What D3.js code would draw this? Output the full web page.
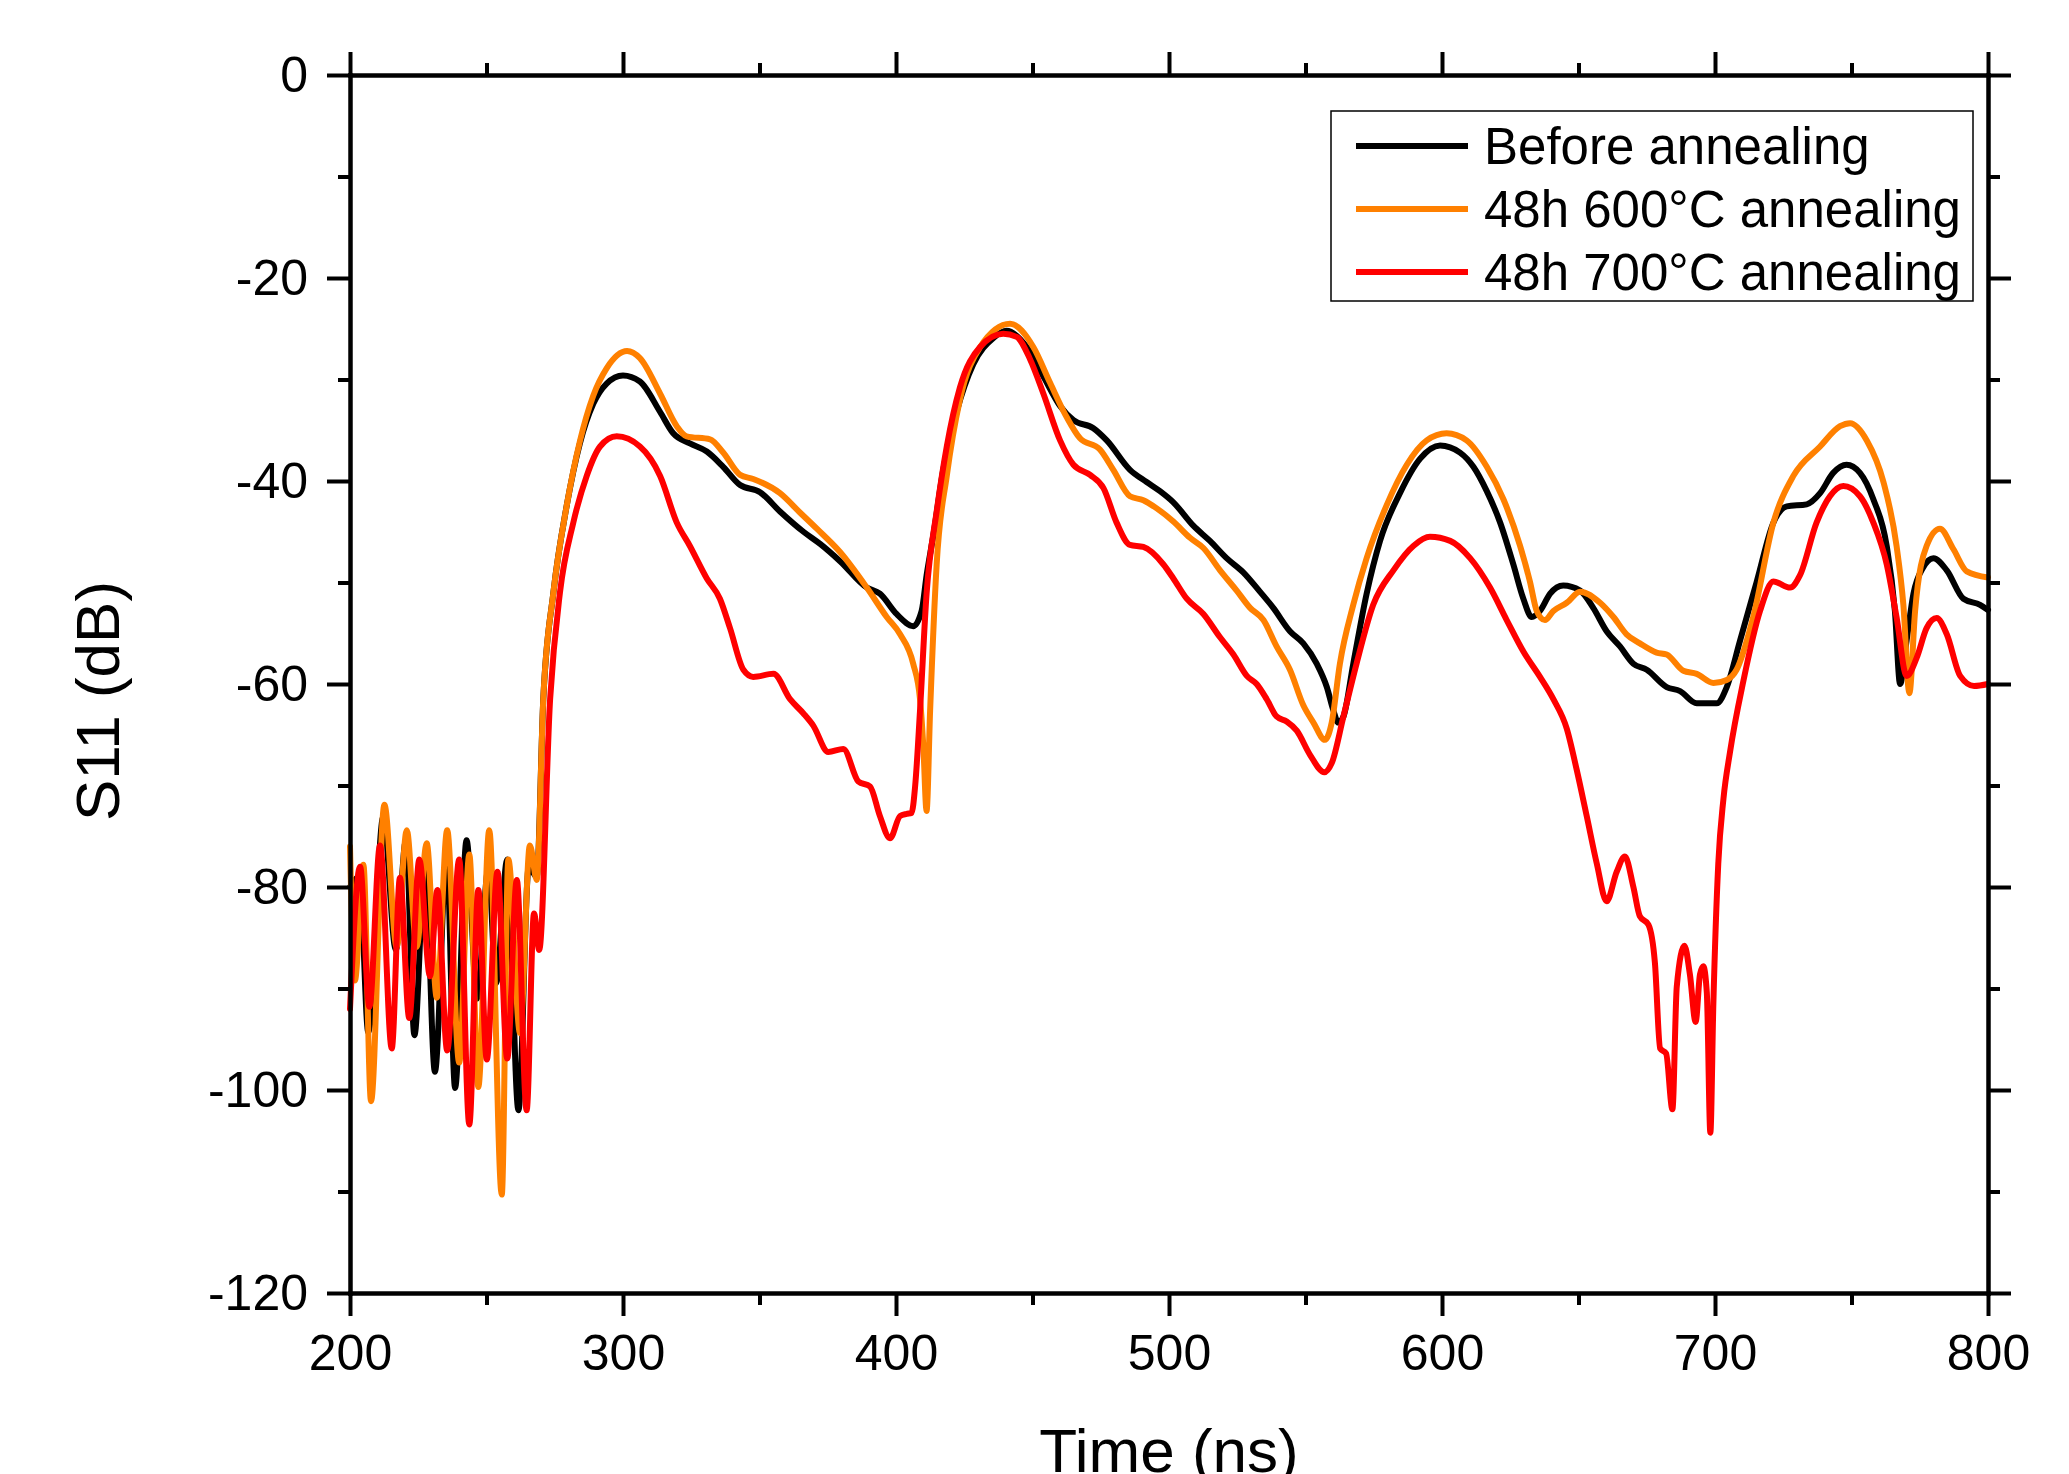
<!DOCTYPE html>
<html>
<head>
<meta charset="utf-8">
<script src="https://cdn.jsdelivr.net/npm/d3@7"></script>
<style>
  body { margin: 0; background: #fff; }
  text { font-family: "Liberation Sans", Arial, sans-serif; fill: #000; }
</style>
</head>
<body>
<div id="chart"></div>
<script>
// series: time (ns) and S11 (dB)
var beforeT = [200,203.5,206.7,212.2,216.8,220.5,223.6,227.5,231.1,235.4,238.5,242.7,246.5,250.7,253.5,257.6,261.7,265.5,268.4,270.8,274.5,279.4,284.2,289.1,294,300,306.2,313.6,318.4,324.5,330.7,336.7,342.9,350.2,357.5,366.1,372.2,379.5,389.3,394.1,400.2,406.3,409.4,411.2,413.7,417.3,422.2,428.3,435.7,440.5,447.9,454,460.1,465,472.3,477.2,485.7,491.8,496.7,501.6,508.9,515,521.1,527.2,533.3,538.2,544.3,549.2,554.1,557.8,560.2,562,563.9,567.5,572.4,577.3,584.6,592,599.3,606.6,611.5,616.4,621.3,626.1,629.8,632.9,635.9,639.6,644.4,650.6,655.4,660.3,665.2,670.1,675,682.3,687.2,693.3,700.6,704.3,709.2,715.3,721.4,726.3,733.6,738.5,743.3,748.2,753.1,758,762.9,765.9,767.8,770.2,772.7,776.3,780,784.9,791,797.1,800];
var beforeV = [-80,-79,-94.3,-73.1,-86.2,-75.4,-94.6,-77.3,-98.2,-77,-99.8,-75.4,-91,-78.2,-89.5,-77.3,-102,-78,-79,-61.5,-51,-42.4,-36.3,-32.4,-30.4,-29.6,-30.2,-33.2,-35.3,-36.3,-37.1,-38.6,-40.4,-41.1,-43,-45,-46.2,-47.9,-50.5,-51.1,-53.1,-54.3,-52.8,-49.3,-45.3,-38.9,-33.2,-28.5,-25.9,-25.2,-26.8,-29.7,-32.6,-34,-34.8,-36,-38.9,-40.1,-41,-42.1,-44.4,-45.9,-47.6,-49,-50.9,-52.5,-54.8,-56,-58,-60.3,-62.6,-63.8,-63.2,-58,-51.1,-45.9,-41.2,-37.8,-36.5,-37.2,-38.6,-41,-44.1,-48.2,-51.6,-53.4,-52.8,-51.1,-50.3,-50.8,-52.5,-54.8,-56.3,-58,-58.6,-60.3,-60.7,-61.9,-61.9,-60.3,-55.7,-49.9,-44.1,-42.5,-42.3,-41.2,-39.2,-38.4,-39.2,-41.8,-46.4,-52.8,-60,-55.7,-51.1,-48.5,-47.6,-48.8,-51.6,-52.2,-52.7];

var a600T = [200,201.8,204.9,207.7,212.6,217.1,220.8,224.4,228.1,231.8,235.6,240,243.7,247,251,255.6,258,262.3,265.9,268.4,270.8,274.5,279.4,284.2,289.1,294,301.5,306.2,313.6,319.7,323.3,331.9,336.7,342.9,347.7,357.5,364.8,371,379.5,389.3,396.6,401.5,406.3,408.8,410,411.2,412.5,414.9,418.6,423.4,430.8,441.8,450.3,456.4,462.5,467.4,474.7,479.6,485.7,490.6,495.5,501.6,507.7,512.6,518.7,524.8,529.7,534.6,539.4,544.3,549.2,552.9,557.1,559.6,562.6,567.5,572.4,579.7,587.1,594.4,601.7,609,616.4,622.5,628.6,632.2,634.7,637.7,640.8,645.7,650.6,657.9,662.8,667.6,672.5,678.6,682.3,688.4,693.3,699.4,704.3,707.9,714,721.4,728.7,738.5,745.8,749.5,755.6,761.7,766.5,769,771.2,773.3,777.5,782.4,787.3,792.2,800];
var a600V = [-76,-89.2,-77.8,-101.1,-71.9,-85.9,-74.4,-85.9,-75.7,-90.9,-74.4,-97.3,-76.8,-99.7,-74.4,-110.3,-77.3,-94.4,-75.9,-79.3,-61.5,-51,-42.4,-36.1,-31.6,-28.9,-27.2,-27.9,-31.4,-34.6,-35.6,-35.9,-37.2,-39.4,-39.8,-41.2,-43.1,-44.7,-47,-50.5,-53.4,-55.1,-58,-61.5,-66.1,-72.5,-62.6,-48.2,-39.5,-32,-26.8,-24.5,-26.8,-30.3,-33.7,-35.8,-36.9,-38.9,-41.5,-41.9,-42.7,-44,-45.6,-46.6,-48.8,-50.8,-52.5,-53.7,-56.3,-58.6,-62.1,-63.8,-65.5,-63.8,-58,-52.2,-47.6,-42.4,-38.4,-36,-35.3,-36,-38.6,-41.8,-46.4,-49.9,-52.8,-53.7,-52.8,-52,-50.9,-52,-53.4,-55.1,-56,-56.9,-57.1,-58.7,-59,-59.9,-59.6,-58.6,-53.4,-44.1,-39.5,-36.6,-34.6,-34.3,-36,-40.1,-46.4,-52.2,-60.9,-52.8,-46.4,-44.7,-46.7,-48.9,-49.5];

var a700T = [200,203.7,207.1,211,215.3,218.3,221.7,225.4,229.3,232,235.6,240,243.7,247,250.1,254,257.6,261.1,264.7,267.4,269.3,273.3,276.9,281.8,286.7,291.6,297.7,306.2,313.6,319.7,324.5,330.7,335.5,339.2,344.1,347.7,355.1,361.2,366.1,369.7,375.2,380.7,386.2,390.5,394.1,397.8,401.5,403.9,405.7,407,408.8,411.2,414.9,418.6,423.4,430.8,439.3,444.2,449.1,454,460.1,465,471.1,476,480.8,485.7,490.6,497.9,501.6,506.5,512.6,518.7,523.6,528.5,532.1,535.8,539.4,543.1,546.8,551.7,556.9,559.6,563.9,568.7,574.8,582.2,589.5,595.6,603,610.3,617.6,623.7,629.8,635.9,640.8,645.7,649.3,653,656.7,660.3,664,667,670.1,672.5,675.6,678,679.9,682.1,684.4,686,688.8,690.8,692.9,694.5,695.7,697,698.3,699.4,701.2,703.1,705.5,710.4,716.5,721.4,727.5,731.1,737.2,742.1,747,753.1,758,762.9,766.5,770.2,773.9,777.5,781.2,784.9,789.8,794.9,800];
var a700V = [-92,-78,-91.8,-75.9,-95.9,-79.1,-92.9,-77.3,-88.8,-80.3,-96.1,-77.3,-103.4,-80.3,-97,-78.5,-96.9,-79.3,-102,-82.6,-86.2,-61.5,-51,-44.1,-39.5,-36.6,-35.6,-36.6,-39.5,-44.1,-46.4,-49.6,-51.6,-54.5,-58.6,-59.3,-59,-61.5,-62.9,-64.1,-66.7,-66.4,-69.6,-70.1,-73,-75.2,-73,-72.8,-72.7,-70.1,-62.6,-51.1,-43,-36.6,-30.8,-26.8,-25.5,-25.8,-28,-31.4,-36,-38.4,-39.4,-40.7,-44.1,-46.3,-46.5,-48.2,-49.6,-51.6,-53.1,-55.4,-57.1,-59.2,-60,-61.5,-63.2,-63.7,-64.6,-67,-68.7,-67.8,-63.2,-58,-52.2,-48.8,-46.4,-45.5,-45.9,-47.6,-50.5,-53.7,-56.8,-59.3,-61.5,-64.4,-68.4,-73,-77.7,-81.4,-78.5,-77,-80,-82.9,-83.7,-87.5,-95.9,-96.4,-101.9,-89.8,-85.8,-88.6,-93.3,-88.6,-87.8,-90.4,-104.2,-91.5,-77.7,-71.3,-66.7,-59.7,-52.8,-49.9,-50.5,-49.3,-44.1,-41.5,-40.5,-41.5,-44.1,-48.2,-53.4,-59.2,-57.4,-54.5,-53.5,-55.1,-59.2,-60.2,-60];

var seriesNames = ["Before annealing", "48h 600°C annealing", "48h 700°C annealing"];
var seriesColors = ["#000000", "#ff8000", "#ff0000"];
var xTicks = [200, 300, 400, 500, 600, 700, 800];
var xMinor = [250, 350, 450, 550, 650, 750];
var yTicks = [0, -20, -40, -60, -80, -100, -120];
var yMinor = [-10, -30, -50, -70, -90, -110];

var W = 2069, H = 1474;
var margin = { top: 75, right: 81, bottom: 181, left: 350 },
    width = W - margin.left - margin.right,
    height = H - margin.top - margin.bottom;

var svg = d3.select("#chart").append("svg")
    .attr("width", W)
    .attr("height", H);

var g = svg.append("g")
    .attr("transform", "translate(" + margin.left + "," + margin.top + ")");

var x = d3.scaleLinear().domain([200, 800]).range([0, width]);
var y = d3.scaleLinear().domain([-120, 0]).range([height, 0]);

var series = [
    { name: seriesNames[0], color: seriesColors[0], values: d3.zip(beforeT, beforeV) },
    { name: seriesNames[1], color: seriesColors[1], values: d3.zip(a600T, a600V) },
    { name: seriesNames[2], color: seriesColors[2], values: d3.zip(a700T, a700V) }
];

var line = d3.line()
    .curve(d3.curveMonotoneX)
    .x(function (d) { return x(d[0]); })
    .y(function (d) { return y(d[1]); });

g.selectAll(".series")
    .data(series)
    .enter().append("path")
    .attr("class", "series")
    .attr("d", function (d) { return line(d.values); })
    .attr("fill", "none")
    .attr("stroke", function (d) { return d.color; })
    .attr("stroke-width", 6)
    .attr("stroke-linejoin", "round")
    .attr("stroke-linecap", "round");

// axes: major and minor ticks on all four sides
function styleAxis(sel, domainW) {
    sel.select(".domain").attr("stroke-width", domainW || 0).attr("stroke-linecap", "square");
    sel.selectAll(".tick line").attr("stroke-width", 4);
    sel.selectAll(".tick text").style("font-size", "50px").attr("fill", "#000");
}
function noLabel() { return ""; }

var axB = g.append("g").attr("transform", "translate(0," + height + ")")
    .call(d3.axisBottom(x).tickValues(xTicks).tickSize(23).tickSizeOuter(0).tickPadding(18).tickFormat(d3.format("d")));
styleAxis(axB, 4.5);
axB.selectAll(".tick text").attr("dy", "0.71em");
styleAxis(g.append("g").attr("transform", "translate(0," + height + ")")
    .call(d3.axisBottom(x).tickValues(xMinor).tickSize(12).tickSizeOuter(0).tickFormat(noLabel)));

var axL = g.append("g")
    .call(d3.axisLeft(y).tickValues(yTicks).tickSize(23).tickSizeOuter(0).tickPadding(19).tickFormat(function (d) { return String(d); }));
styleAxis(axL, 4.5);
styleAxis(g.append("g")
    .call(d3.axisLeft(y).tickValues(yMinor).tickSize(12).tickSizeOuter(0).tickFormat(noLabel)));

styleAxis(g.append("g")
    .call(d3.axisTop(x).tickValues(xTicks).tickSize(23).tickSizeOuter(0).tickFormat(noLabel)), 4.5);
styleAxis(g.append("g")
    .call(d3.axisTop(x).tickValues(xMinor).tickSize(12).tickSizeOuter(0).tickFormat(noLabel)));

styleAxis(g.append("g").attr("transform", "translate(" + width + ",0)")
    .call(d3.axisRight(y).tickValues(yTicks).tickSize(23).tickSizeOuter(0).tickFormat(noLabel)), 4.5);
styleAxis(g.append("g").attr("transform", "translate(" + width + ",0)")
    .call(d3.axisRight(y).tickValues(yMinor).tickSize(12).tickSizeOuter(0).tickFormat(noLabel)));

// axis titles (the x title sits at the bottom edge, as in the original)
svg.append("text")
    .attr("x", margin.left + width / 2)
    .attr("y", 1472)
    .style("text-anchor", "middle")
    .style("font-size", "62px")
    .text("Time (ns)");

svg.append("text")
    .attr("transform", "translate(119,701) rotate(-90)")
    .style("text-anchor", "middle")
    .style("font-size", "62px")
    .text("S11 (dB)");

// legend
var legend = svg.append("g");
legend.append("rect")
    .attr("x", 1331).attr("y", 111)
    .attr("width", 642).attr("height", 190)
    .attr("fill", "#fff")
    .attr("stroke", "#000")
    .attr("stroke-width", 1.5);

var rows = legend.selectAll(".row")
    .data(series)
    .enter().append("g")
    .attr("class", "row")
    .attr("transform", function (d, i) { return "translate(0," + (146 + i * 63) + ")"; });

rows.append("line")
    .attr("x1", 1356).attr("x2", 1468)
    .attr("stroke", function (d) { return d.color; })
    .attr("stroke-width", 6);

rows.append("text")
    .attr("x", 1484)
    .attr("y", 18)
    .style("font-size", "51px")
    .text(function (d) { return d.name; });
</script>
</body>
</html>
